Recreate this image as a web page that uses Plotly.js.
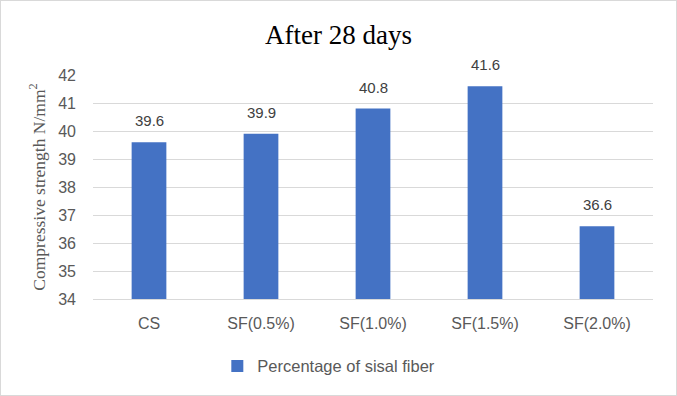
<!DOCTYPE html>
<html><head><meta charset="utf-8">
<script src="https://cdn.plot.ly/plotly-3.0.1.min.js"></script>
<style>html,body{margin:0;padding:0;background:#fff}#wrap{position:relative;width:677px;height:396px}#b{position:absolute;left:0;top:0;width:675px;height:394px;border:1px solid #d9d9d9;pointer-events:none}</style>
</head><body><div id="wrap"><div id="chart" style="width:677px;height:396px"></div><div id="b"></div></div>
<script>
const categories = ["CS", "SF(0.5%)", "SF(1.0%)", "SF(1.5%)", "SF(2.0%)"];
const strength = [39.6, 39.9, 40.8, 41.6, 36.6];
const yTicks = [34, 35, 36, 37, 38, 39, 40, 41, 42];
const seriesName = "Percentage of sisal fiber";

const sans = "Liberation Sans, Arial, sans-serif";
const serif = "Liberation Serif, Times New Roman, serif";

const trace = {
  type: "bar", x: categories, y: strength, name: seriesName,
  marker: {color: "#4472C4"}, showlegend: true
};
const labels = categories.map((c, i) => ({
  x: c, y: strength[i], xref: "x", yref: "y", text: strength[i].toFixed(1),
  showarrow: false, yanchor: "bottom", yshift: 11,
  font: {family: sans, size: 15, color: "#404040"}
}));
const layout = {
  width: 677, height: 396,
  margin: {l: 93, r: 24, t: 75, b: 97},
  paper_bgcolor: "#fff", plot_bgcolor: "#fff",
  title: {text: "After 28 days", x: 0.5, xanchor: "center", y: 0.912, yanchor: "middle",
    font: {family: serif, size: 27, color: "#000"}},
  bargap: 0.69,
  xaxis: {type: "category", showgrid: false, showline: true, linecolor: "#d9d9d9", linewidth: 1,
    ticks: "", tickfont: {family: sans, size: 16, color: "#595959"}, ticklabelstandoff: 10},
  yaxis: {range: [34, 42], tickvals: yTicks, ticktext: yTicks.map(String), showgrid: true, gridcolor: "#d9d9d9",
    zeroline: false, showline: false, ticks: "", ticklabelstandoff: 16,
    tickfont: {family: sans, size: 16, color: "#595959"},
    title: {text: "Compressive strength N/mm<sup>2</sup>", standoff: 8,
      font: {family: serif, size: 17.5, color: "#595959"}}},
  legend: {orientation: "h", x: 0.222, xanchor: "left", y: -0.30, yanchor: "middle", itemwidth: 30,
    font: {family: sans, size: 16.5, color: "#595959"}},
  showlegend: true,
  annotations: labels
};
Plotly.newPlot("chart", [trace], layout, {displayModeBar: false, staticPlot: true});
</script></body></html>
